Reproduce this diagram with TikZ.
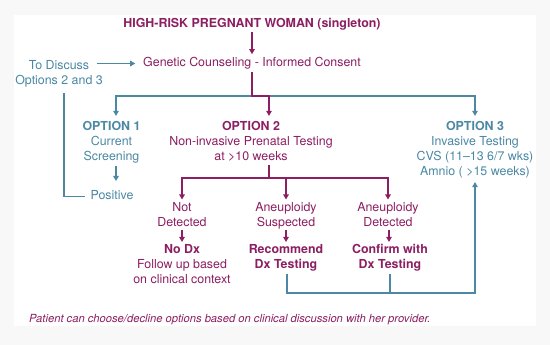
\documentclass[tikz,border=0pt]{standalone}
\usepackage{fontspec}
\setmainfont{TeX Gyre Heros}
\usetikzlibrary{arrows.meta,calc}
\definecolor{mag}{RGB}{140,30,98}
\definecolor{tl}{RGB}{74,136,164}
\definecolor{bgc}{RGB}{248,248,248}
\newcommand\zs{\rule[-3pt]{0pt}{12pt}}
\begin{document}
\begin{tikzpicture}[x=1pt,y=-1pt,
  txt/.style={inner sep=0pt, outer sep=0pt, align=center, font=\fontsize{12.4}{15}\selectfont},
  bld/.style={font=\fontsize{12.4}{15}\selectfont\bfseries},
  mt/.style={txt, text=mag},
  tt/.style={txt, text=tl},
  ln/.style={line width=1.1pt},
  marr/.style={ln, draw=mag, -{Triangle[width=5.5pt,length=5pt]}},
  tarr/.style={ln, draw=tl, -{Triangle[width=5.5pt,length=5pt]}},
  mln/.style={ln, draw=mag},
  tln/.style={ln, draw=tl}]
\fill[bgc] (0,0) rectangle (550,345);
\fill[white] (14,15) rectangle (536,326);
\useasboundingbox (0,0) rectangle (550,345);

% nodes
\node[mt,bld] (title) at (252,24.8) {\zs HIGH-RISK PREGNANT WOMAN (singleton)\zs};
\node[mt] (gen) at (252,63.5) {\zs Genetic Counseling - Informed Consent\zs};
\node[tt] (disc) at (59,74) {\zs To Discuss\\Options 2 and 3\zs};
\node[tt] (opt1) at (111.5,142.5) {\zs\textbf{OPTION 1}\\Current\\Screening\zs};
\node[tt] (pos) at (112,196.5) {\zs Positive\zs};
\node[mt] (opt2) at (251,142.5) {\zs\textbf{OPTION 2}\\Non-invasive Prenatal Testing\\at >10 weeks\zs};
\node[tt] (opt3) at (475,150) {\zs\textbf{OPTION 3}\\Invasive Testing\\CVS (11–13 6/7 wks)\\Amnio ( >15 weeks)\zs};
\node[mt] (nd) at (182,216) {\zs Not\\Detected\zs};
\node[mt] (as) at (286,216) {\zs Aneuploidy\\Suspected\zs};
\node[mt] (ad) at (388,216) {\zs Aneuploidy\\Detected\zs};
\node[mt] (nodx) at (182,265.5) {\zs\textbf{No Dx}\\Follow up based\\on clinical context\zs};
\node[mt,bld] (rec) at (286,258) {\zs Recommend\\Dx Testing\zs};
\node[mt,bld] (conf) at (390,258) {\zs Confirm with\\Dx Testing\zs};
\node[inner sep=0pt, anchor=base west, text=mag, font=\fontsize{11.2}{13}\selectfont\itshape] (note) at (29,323) {Patient can choose/decline options based on clinical discussion with her provider.};

% coordinates
\coordinate (split) at (252,96);
\coordinate (s2) at (269,178);
\coordinate (bot) at (475,293);

% connectors
\draw[marr, shorten <=1.2pt, shorten >=3.2pt] (title.south) -- (gen.north);
\draw[tarr, shorten <=-6pt, shorten >=8pt] (disc.east |- gen) -- (gen.west);
\draw[tarr, shorten >=5.5pt] (split) -| ([xshift=4.5pt]opt1.north);
\draw[tarr, shorten >=5.5pt] (split) -| (opt3.north);
\draw[marr, shorten <=2.5pt, shorten >=5.5pt] (gen.south) -- (split) -| ([xshift=18pt]opt2.north);
\draw[tarr, shorten <=2.5pt, shorten >=9.5pt] ([xshift=4.5pt]opt1.south) -- ([xshift=4pt]pos.north);
\draw[tln, shorten <=5.5pt, shorten >=5.3pt] ([xshift=5pt]disc.south) |- (pos.west);
\draw[mln, shorten <=1.5pt] ([xshift=18pt]opt2.south) -- (s2);
\draw[marr, shorten >=3pt] (s2) -| (nd.north);
\draw[marr, shorten >=3pt] (s2) -| (ad.north);
\draw[marr, shorten >=3pt] (as.north |- s2) -- (as.north);
\draw[marr, shorten >=2.5pt] (nd.south) -- (nodx.north);
\draw[marr, shorten >=2.5pt] (as.south) -- (rec.north);
\draw[marr, shorten >=2.5pt] ([xshift=1pt]ad.south) -- ([xshift=-1pt]conf.north);
\draw[tarr, shorten <=2.5pt, shorten >=3.5pt] ([xshift=1pt]rec.south) |- (bot) -- (opt3.south);
\draw[tln, shorten <=2.5pt] (conf.south) -- (conf.south |- bot);
\end{tikzpicture}
\end{document}
